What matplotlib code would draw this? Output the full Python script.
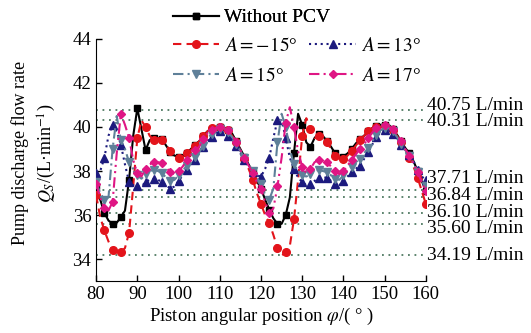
import numpy as np
import matplotlib.pyplot as plt
import matplotlib.transforms as mtransforms

plt.rcParams["font.family"] = ["Liberation Serif", "DejaVu Serif"]
plt.rcParams["mathtext.fontset"] = "stix"

# piston angle, one value per degree
angle = np.arange(80, 161)

without_pcv = [
    37.3, 36.7, 36.1, 35.75, 35.6, 35.65, 35.9, 36.2, 37.6, 39.6,
    40.85, 39.9, 38.95, 39.4, 39.5, 39.5, 39.45, 39.15, 38.85, 38.7,
    38.65, 38.65, 38.8, 39.0, 39.2, 39.35, 39.6, 39.8, 39.92, 40.0,
    40.0, 39.95, 39.85, 39.7, 39.35, 39.0, 38.65, 38.3, 37.95, 37.55,
    37.2, 36.7, 36.25, 35.85, 35.6, 35.6, 36.0, 36.8, 38.8, 40.6,
    40.1, 39.3, 39.1, 39.5, 39.7, 39.6, 39.35, 39.1, 38.8, 38.6,
    38.65, 38.8, 39.0, 39.25, 39.45, 39.6, 39.8, 39.95, 40.05, 40.1,
    40.1, 40.1, 39.9, 39.65, 39.35, 39.05, 38.8, 38.45, 38.0, 37.55,
    37.1]

a_m15 = [
    36.9, 35.9, 35.3, 34.8, 34.4, 34.25, 34.3, 34.5, 35.2, 37.3,
    39.5, 40.3, 40.0, 39.6, 39.4, 39.5, 39.4, 39.2, 38.9, 38.65,
    38.6, 38.65, 38.8, 38.95, 39.15, 39.35, 39.6, 39.8, 39.95, 40.0,
    40.0, 39.95, 39.85, 39.6, 39.3, 38.95, 38.55, 38.1, 37.6, 37.0,
    36.5, 36.0, 35.65, 35.1, 34.5, 34.15, 34.3, 34.6, 35.8, 37.6,
    39.6, 40.4, 39.9, 39.5, 39.6, 39.55, 39.3, 39.0, 38.7, 38.5,
    38.55, 38.7, 38.9, 39.15, 39.4, 39.6, 39.8, 39.95, 40.0, 40.05,
    40.05, 40.0, 39.85, 39.6, 39.3, 38.95, 38.6, 38.2, 37.7, 37.1,
    36.5]

a_13 = [
    37.9, 38.0, 38.6, 39.6, 40.1, 39.8, 39.2, 38.3, 37.5, 37.35,
    37.3, 37.3, 37.5, 37.6, 37.65, 37.6, 37.5, 37.35, 37.2, 37.3,
    37.55, 37.8, 38.05, 38.3, 38.5, 38.8, 39.1, 39.35, 39.55, 39.7,
    39.8, 39.75, 39.6, 39.4, 39.15, 38.8, 38.5, 38.2, 37.95, 37.8,
    37.75, 38.1, 38.6, 39.5, 40.3, 40.3, 39.5, 38.6, 38.1, 37.7,
    37.5, 37.35, 37.4, 37.55, 37.7, 37.7, 37.7, 37.55, 37.4, 37.35,
    37.55, 37.75, 37.95, 38.1, 38.25, 38.55, 38.85, 39.2, 39.55, 39.75,
    39.85, 39.85, 39.7, 39.5, 39.2, 38.95, 38.75, 38.45, 38.05, 37.75,
    37.6]

a_15 = [
    37.5, 37.0, 36.7, 36.8, 39.0, 40.5, 39.4, 39.0, 38.4, 38.1,
    37.8, 37.65, 37.85, 38.0, 38.05, 38.0, 37.9, 37.7, 37.55, 37.6,
    37.8, 38.0, 38.25, 38.45, 38.65, 38.85, 39.15, 39.45, 39.7, 39.85,
    39.9, 39.85, 39.75, 39.55, 39.25, 38.9, 38.6, 38.3, 38.0, 37.7,
    37.4, 36.9, 36.7, 37.2, 39.3, 40.6, 40.0, 39.0, 38.3, 38.0,
    37.8, 37.75, 37.85, 38.0, 38.05, 38.0, 37.95, 37.8, 37.65, 37.6,
    37.8, 38.0, 38.2, 38.4, 38.55, 38.8, 39.05, 39.35, 39.65, 39.85,
    39.95, 39.95, 39.8, 39.55, 39.25, 38.95, 38.7, 38.35, 37.95, 37.55,
    37.3]

a_17 = [
    37.4, 36.8, 36.3, 36.2, 36.6, 38.8, 40.6, 40.1, 39.5, 38.5,
    37.9, 37.75, 38.1, 38.3, 38.4, 38.4, 38.35, 38.15, 37.95, 37.85,
    38.0, 38.2, 38.5, 38.75, 38.95, 39.1, 39.45, 39.7, 39.85, 39.95,
    40.0, 39.95, 39.85, 39.65, 39.3, 38.95, 38.6, 38.25, 37.9, 37.5,
    37.2, 36.6, 36.1, 36.3, 37.3, 38.6, 40.2, 40.9, 40.0, 38.9,
    38.2, 37.9, 38.1, 38.4, 38.5, 38.45, 38.4, 38.2, 38.0, 37.85,
    38.0, 38.25, 38.5, 38.75, 39.0, 39.2, 39.5, 39.75, 39.95, 40.05,
    40.1, 40.05, 39.9, 39.65, 39.35, 39.0, 38.7, 38.35, 37.95, 37.5,
    37.1]

# dotted reference lines as drawn, and their labels
ref_levels = [40.75, 40.31, 37.12, 36.84, 36.10, 35.60, 34.19]
ref_labels = ["40.75 L/min", "40.31 L/min", "37.71 L/min", "36.84 L/min",
              "36.10 L/min", "35.60 L/min", "34.19 L/min"]
label_nudge = [0.22, -0.08, 0.52, 0.04, 0.02, -0.22, -0.04]

fig = plt.figure(figsize=(5.31, 3.33), dpi=100)
ax = fig.add_axes([0.181, 0.156, 0.621, 0.727])

for lev in ref_levels:
    ax.axhline(lev, color="#4f7a62", lw=1.3, ls=(0, (1, 2.6)), zorder=1)

h0, = ax.plot(angle, without_pcv, color="black", ls="-", lw=1.5,
              marker="s", ms=4.5, markevery=2, label="Without PCV", zorder=3)
h1, = ax.plot(angle, a_m15, color="#e3141b", ls=(0, (4, 2.5)), lw=1.5,
              marker="o", ms=5.5, markevery=2, label=r"$A=-15$°", zorder=4)
h2, = ax.plot(angle, a_13, color="#1c1a7e", ls=(0, (1, 1.8)), lw=1.5,
              marker="^", ms=5.5, markevery=2, label=r"$A=13$°", zorder=5)
h3, = ax.plot(angle, a_15, color="#5f8099", ls=(0, (5, 2, 1, 2)), lw=1.5,
              marker="v", ms=5.5, markevery=2, label=r"$A=15$°", zorder=6)
h4, = ax.plot(angle, a_17, color="#df1684", ls=(0, (5, 2, 1, 2, 1, 2)), lw=1.5,
              marker="D", ms=4.5, markevery=2, label=r"$A=17$°", zorder=7)

ax.set_xlim(80, 160)
ax.set_ylim(33, 44)
ax.set_xticks(range(80, 161, 10))
ax.set_yticks(range(34, 45, 2))
ax.tick_params(direction="in", length=4, labelsize=13.5, width=1)
ax.spines["top"].set_visible(False)
ax.spines["right"].set_visible(False)

trans = mtransforms.blended_transform_factory(ax.transAxes, ax.transData)
for lev, txt, dy in zip(ref_levels, ref_labels, label_nudge):
    ax.text(1.003, lev + dy, txt, transform=trans, va="center", ha="left",
            fontsize=14, clip_on=False)

ax.set_xlabel(r"Piston angular position $\varphi$/( ° )", fontsize=13.5, labelpad=2)
fig.text(0.037, 0.54, "Pump discharge flow rate", rotation=90,
         ha="center", va="center", fontsize=13)
fig.text(0.088, 0.54, r"$Q_S$/(L·min$^{-1}$)", rotation=90,
         ha="center", va="center", fontsize=13)

leg1 = fig.legend(handles=[h0], loc="upper left", bbox_to_anchor=(0.318, 0.985),
                  frameon=False, fontsize=14, handlelength=2.4,
                  handletextpad=0.25, borderaxespad=0, borderpad=0.2)
fig.legend(handles=[h1, h3, h2, h4], ncol=2, loc="upper left",
           bbox_to_anchor=(0.318, 0.9), frameon=False, fontsize=14,
           handlelength=2.4, handletextpad=0.25, labelspacing=0.6,
           columnspacing=0.6, borderaxespad=0, borderpad=0.2)
fig.add_artist(leg1)

fig.savefig("out.png", dpi=100)
